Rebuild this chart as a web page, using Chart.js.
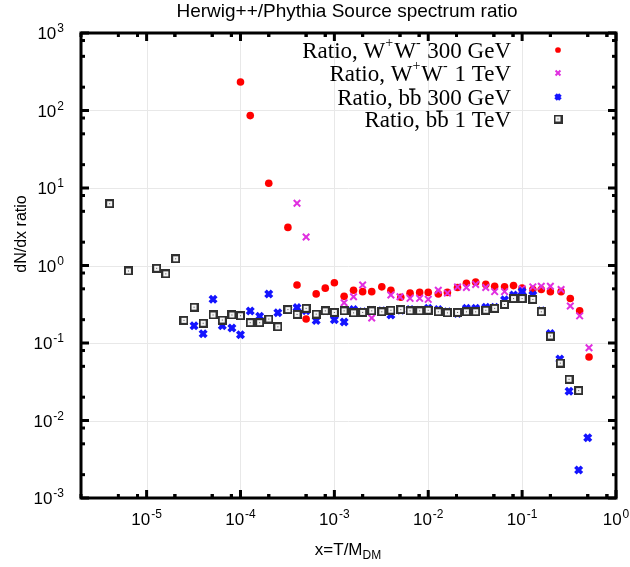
<!DOCTYPE html>
<html>
<head>
<meta charset="utf-8">
<script src="https://cdn.jsdelivr.net/npm/chart.js@4.4.1/dist/chart.umd.min.js"></script>
<style>
  html, body { margin: 0; padding: 0; background: #fff; }
  #wrap { width: 630px; height: 567px; }
</style>
</head>
<body>
<div id="wrap"><canvas id="chart" width="630" height="567"></canvas></div>
<script>
// axis ticks (log decades) and their exponent labels
const xTicks = [1e-5, 1e-4, 1e-3, 1e-2, 1e-1, 1];
const xTickExp = ['-5', '-4', '-3', '-2', '-1', '0'];
const yTicks = [1e-3, 1e-2, 1e-1, 1, 10, 100, 1000];
const yTickExp = ['-3', '-2', '-1', '0', '1', '2', '3'];
const minorMult = [2, 5, 8];

// W+W- 300 GeV
const ww300X = [1.0e-4, 1.27e-4, 2.0e-4, 3.2e-4, 4.0e-4, 5.0e-4, 6.4e-4, 8.0e-4, 1.0e-3, 1.27e-3, 1.6e-3, 2.0e-3, 2.5e-3, 3.2e-3, 4.0e-3, 5.1e-3, 6.4e-3, 8.1e-3, 1.0e-2, 1.28e-2, 1.6e-2, 2.05e-2, 2.55e-2, 3.2e-2, 4.1e-2, 5.1e-2, 6.5e-2, 8.1e-2, 0.10, 0.13, 0.16, 0.2, 0.26, 0.326, 0.41, 0.516];
const ww300Y = [233, 86, 11.5, 3.1, 0.56, 0.204, 0.43, 0.51, 0.60, 0.40, 0.48, 0.46, 0.46, 0.53, 0.48, 0.39, 0.44, 0.45, 0.45, 0.43, 0.45, 0.52, 0.59, 0.61, 0.57, 0.54, 0.53, 0.55, 0.51, 0.49, 0.49, 0.46, 0.46, 0.375, 0.26, 0.066];

// W+W- 1 TeV
const ww1tX = [4.0e-4, 5.0e-4, 1.27e-3, 1.6e-3, 2.0e-3, 2.5e-3, 4.0e-3, 5.0e-3, 6.4e-3, 8.1e-3, 1.0e-2, 1.28e-2, 1.6e-2, 2.05e-2, 2.55e-2, 3.2e-2, 4.1e-2, 5.1e-2, 6.5e-2, 0.10, 0.13, 0.16, 0.2, 0.26, 0.326, 0.41, 0.516];
const ww1tY = [6.35, 2.33, 0.33, 0.395, 0.56, 0.21, 0.416, 0.395, 0.377, 0.377, 0.366, 0.48, 0.44, 0.53, 0.52, 0.57, 0.52, 0.46, 0.46, 0.50, 0.53, 0.54, 0.54, 0.49, 0.30, 0.224, 0.087];

// b bbar 300 GeV
const bb300X = [3.2e-5, 4.0e-5, 5.1e-5, 6.4e-5, 8.1e-5, 1.0e-4, 1.27e-4, 1.6e-4, 2.0e-4, 2.5e-4, 3.2e-4, 4.0e-4, 5.0e-4, 6.4e-4, 8.0e-4, 1.0e-3, 1.27e-3, 1.6e-3, 2.0e-3, 2.5e-3, 3.2e-3, 4.0e-3, 5.1e-3, 6.4e-3, 8.1e-3, 1.0e-2, 1.28e-2, 1.6e-2, 2.05e-2, 2.55e-2, 3.2e-2, 4.1e-2, 5.1e-2, 6.5e-2, 8.1e-2, 0.10, 0.13, 0.16, 0.2, 0.252, 0.316, 0.4, 0.5];
const bb300Y = [0.167, 0.132, 0.367, 0.167, 0.156, 0.128, 0.259, 0.221, 0.43, 0.246, 0.27, 0.286, 0.261, 0.195, 0.26, 0.20, 0.187, 0.27, 0.253, 0.265, 0.26, 0.23, 0.265, 0.27, 0.265, 0.28, 0.27, 0.253, 0.24, 0.28, 0.28, 0.29, 0.29, 0.36, 0.415, 0.46, 0.415, 0.26, 0.133, 0.062, 0.0238, 0.0023, 0.006];

// b bbar 1 TeV
const bb1tX = [4.04e-6, 6.4e-6, 1.28e-5, 1.6e-5, 2.04e-5, 2.5e-5, 3.2e-5, 4.0e-5, 5.1e-5, 6.4e-5, 8.1e-5, 1.0e-4, 1.27e-4, 1.6e-4, 2.0e-4, 2.5e-4, 3.2e-4, 4.0e-4, 5.0e-4, 6.4e-4, 8.0e-4, 1.0e-3, 1.27e-3, 1.6e-3, 2.0e-3, 2.5e-3, 3.2e-3, 4.0e-3, 5.1e-3, 6.4e-3, 8.1e-3, 1.0e-2, 1.28e-2, 1.6e-2, 2.05e-2, 2.55e-2, 3.2e-2, 4.1e-2, 5.1e-2, 6.5e-2, 8.1e-2, 0.10, 0.13, 0.16, 0.2, 0.255, 0.316, 0.4];
const bb1tY = [6.27, 0.85, 0.92, 0.78, 1.22, 0.196, 0.29, 0.18, 0.23, 0.198, 0.23, 0.225, 0.183, 0.183, 0.204, 0.162, 0.27, 0.234, 0.28, 0.236, 0.26, 0.248, 0.26, 0.245, 0.248, 0.26, 0.253, 0.265, 0.27, 0.26, 0.26, 0.265, 0.253, 0.245, 0.248, 0.253, 0.253, 0.265, 0.28, 0.314, 0.375, 0.375, 0.365, 0.253, 0.123, 0.055, 0.034, 0.0243];

const pts = (xs, ys) => xs.map((v, i) => ({x: v, y: ys[i]}));

const SANS = '"Liberation Sans", Arial, Helvetica, sans-serif';
const SERIF = '"Liberation Serif", "Times New Roman", serif';

// gnuplot-like box marker: dark square, white inside, small dot
const boxMark = document.createElement('canvas');
boxMark.width = 9; boxMark.height = 9;
(function () {
    const c = boxMark.getContext('2d');
    c.fillStyle = '#303030'; c.fillRect(0, 0, 9, 9);
    c.fillStyle = '#f4f4f4'; c.fillRect(2, 2, 5, 5);
    c.fillStyle = '#555555'; c.fillRect(4, 4, 1, 1);
})();

const series = [
    {label: 'ww300', xs: ww300X, ys: ww300Y, style: 'circle', radius: 3.8, color: '#ff0000', bw: 0, order: 4,
     text: [['Ratio, W'], ['+', 'sup'], ['W'], ['-', 'sup'], [' 300 GeV']]},
    {label: 'ww1t', xs: ww1tX, ys: ww1tY, style: 'crossRot', radius: 4.6, color: '#e030e0', bw: 2, order: 3,
     text: [['Ratio, W'], ['+', 'sup'], ['W'], ['-', 'sup'], [' 1 TeV']]},
    {label: 'bb300', xs: bb300X, ys: bb300Y, style: 'crossRot', radius: 4.6, color: '#1414ff', bw: 3.6, order: 2,
     text: [['Ratio, b'], ['b', 'bar'], [' 300 GeV']]},
    {label: 'bb1t', xs: bb1tX, ys: bb1tY, style: boxMark, radius: 4.5, color: '#303030', bw: 0, order: 1,
     text: [['Ratio, b'], ['b', 'bar'], [' 1 TeV']]}
];

function drawSup(ctx, base, exp, x, y, align, size) {
    ctx.font = size + 'px ' + SANS;
    const wb = ctx.measureText(base).width;
    const es = Math.round(size * 0.68);
    ctx.font = es + 'px ' + SANS;
    const we = ctx.measureText(exp).width;
    let left = align === 'right' ? x - wb - we - 1 : x - (wb + we + 1) / 2;
    ctx.textAlign = 'left';
    ctx.textBaseline = 'alphabetic';
    ctx.font = size + 'px ' + SANS;
    ctx.fillText(base, left, y + size * 0.36);
    ctx.font = es + 'px ' + SANS;
    ctx.fillText(exp, left + wb + 1, y - size * 0.05);
}

function drawLegendText(ctx, parts, right, base, size) {
    const ss = Math.round(size * 0.62);
    const widths = parts.map(p => {
        ctx.font = (p[1] === 'sup' ? ss : size) + 'px ' + SERIF;
        return ctx.measureText(p[0]).width + (p[1] === 'sup' ? 1 : 0);
    });
    let x = right - widths.reduce((a, b) => a + b, 0);
    ctx.textAlign = 'left';
    ctx.textBaseline = 'alphabetic';
    parts.forEach((p, i) => {
        if (p[1] === 'sup') {
            ctx.font = ss + 'px ' + SERIF;
            ctx.fillText(p[0], x, base - size * 0.45);
        } else {
            ctx.font = size + 'px ' + SERIF;
            ctx.fillText(p[0], x, base);
            if (p[1] === 'bar') {
                ctx.fillRect(x - 1, base - size * 0.70, widths[i] * 0.55, 1.3);
            }
        }
        x += widths[i];
    });
}

const axesPlugin = {
    id: 'axesPlugin',
    beforeDatasetsDraw(chart) {
        const {ctx, chartArea: a, scales: {x, y}} = chart;
        ctx.save();
        ctx.strokeStyle = '#e8e8e8';
        ctx.lineWidth = 1;
        ctx.beginPath();
        xTicks.forEach(v => {
            const px = Math.round(x.getPixelForValue(v)) + 0.5;
            ctx.moveTo(px, a.top); ctx.lineTo(px, a.bottom);
        });
        yTicks.forEach(v => {
            const py = Math.round(y.getPixelForValue(v)) + 0.5;
            ctx.moveTo(a.left, py); ctx.lineTo(a.right, py);
        });
        ctx.stroke();
        ctx.restore();
    },
    afterDatasetsDraw(chart) {
        const {ctx, chartArea: a, scales: {x, y}} = chart;
        ctx.save();
        ctx.fillStyle = '#000';

        // tick marks, inward on all four sides
        const xMin = x.min, xMax = x.max, yMin = y.min, yMax = y.max;
        const tickX = (v, len) => {
            const px = x.getPixelForValue(v);
            ctx.fillRect(px - 1.5, a.bottom - len, 3, len);
            ctx.fillRect(px - 1.5, a.top, 3, len);
        };
        const tickY = (v, len) => {
            const py = y.getPixelForValue(v);
            ctx.fillRect(a.left, py - 1.5, len, 3);
            ctx.fillRect(a.right - len, py - 1.5, len, 3);
        };
        xTicks.forEach(v => {
            tickX(v, 8);
            minorMult.forEach(m => {
                [v * m, v * m / 10].forEach(w => { if (w > xMin && w < xMax) tickX(w, 4); });
            });
        });
        yTicks.forEach(v => {
            tickY(v, 8);
            minorMult.forEach(m => {
                const w = v * m;
                if (w > yMin && w < yMax) tickY(w, 4);
            });
        });

        // frame
        ctx.strokeStyle = '#000';
        ctx.lineWidth = 3;
        ctx.strokeRect(a.left, a.top, a.right - a.left, a.bottom - a.top);

        // tick labels
        xTicks.forEach((v, i) => drawSup(ctx, '10', xTickExp[i], x.getPixelForValue(v), 519, 'center', 17));
        yTicks.forEach((v, i) => drawSup(ctx, '10', yTickExp[i], 64, y.getPixelForValue(v), 'right', 17));

        // title and axis titles
        ctx.textAlign = 'center';
        ctx.textBaseline = 'middle';
        ctx.font = '19px ' + SANS;
        ctx.fillText('Herwig++/Phythia Source spectrum ratio', 347, 12);

        ctx.save();
        ctx.translate(22, 234);
        ctx.rotate(-Math.PI / 2);
        ctx.font = '16px ' + SANS;
        ctx.fillText('dN/dx ratio', 0, 0);
        ctx.restore();

        ctx.font = '17px ' + SANS;
        const w1 = ctx.measureText('x=T/M').width;
        ctx.font = '12px ' + SANS;
        const w2 = ctx.measureText('DM').width;
        const lx = 348 - (w1 + w2) / 2;
        ctx.textAlign = 'left';
        ctx.textBaseline = 'alphabetic';
        ctx.font = '17px ' + SANS;
        ctx.fillText('x=T/M', lx, 555);
        ctx.font = '12px ' + SANS;
        ctx.fillText('DM', lx + w1, 559);

        // legend
        const rowY = [50, 73, 97, 119];
        series.forEach((s, i) => {
            ctx.fillStyle = '#000';
            drawLegendText(ctx, s.text, 511, rowY[i] + 7.5, 23);
            ctx.fillStyle = s.color;
            ctx.strokeStyle = s.color;
            ctx.lineWidth = s.bw;
            const r = s.style === boxMark ? s.radius : s.radius * 0.75;
            Chart.helpers.drawPoint(ctx, {pointStyle: s.style, radius: r, borderWidth: s.bw, rotation: 0}, 558, rowY[i]);
        });
        ctx.restore();
    }
};

new Chart(document.getElementById('chart'), {
    type: 'scatter',
    data: {
        datasets: series.map(s => ({
            label: s.label,
            data: pts(s.xs, s.ys),
            pointStyle: s.style,
            pointRadius: s.radius,
            pointHoverRadius: s.radius,
            backgroundColor: s.color,
            borderColor: s.color,
            borderWidth: s.bw,
            order: s.order
        }))
    },
    options: {
        responsive: false,
        animation: false,
        layout: {padding: {left: 81, right: 14, top: 33, bottom: 69}},
        scales: {
            x: {type: 'logarithmic', min: 2e-6, max: 1, display: false},
            y: {type: 'logarithmic', min: 1e-3, max: 1e3, display: false}
        },
        plugins: {
            legend: {display: false},
            tooltip: {enabled: false}
        }
    },
    plugins: [axesPlugin]
});
</script>
</body>
</html>
